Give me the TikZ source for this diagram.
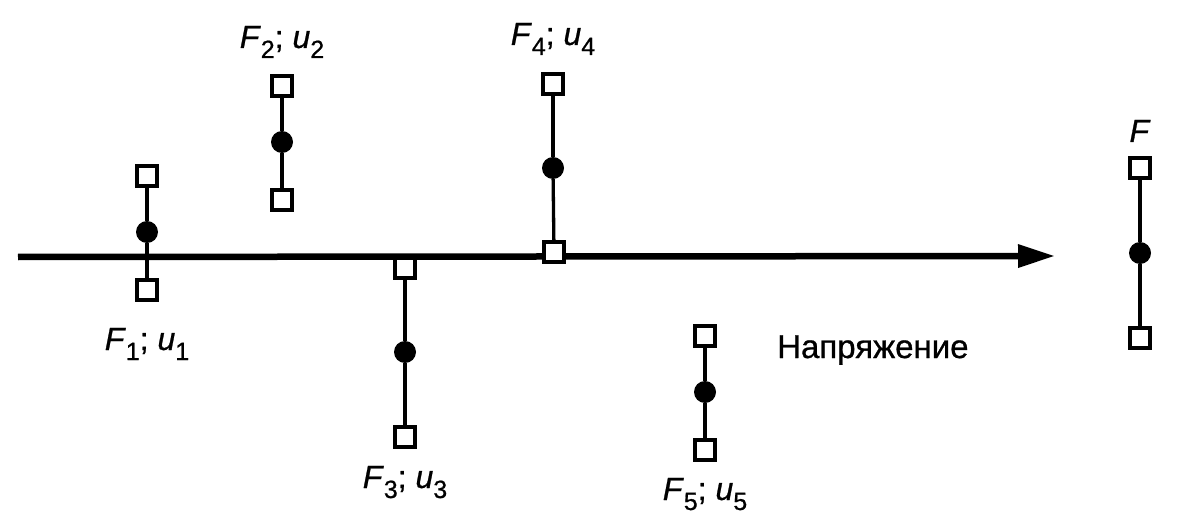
\documentclass[tikz,border=0pt]{standalone}
\usepackage{fontspec}
\setmainfont{Liberation Sans}[UprightFeatures={FakeBold=0.8},ItalicFeatures={FakeBold=0.8}]
\usetikzlibrary{arrows.meta}
\newcommand{\sbs}[1]{\raisebox{-10pt}{\fontsize{25}{25}\selectfont #1}}
\newcommand{\fu}[1]{\textit{F}\sbs{#1}; \textit{u}\sbs{#1}}
\begin{document}
\begin{tikzpicture}[x=1pt,y=-1pt,
  sq/.style={draw,fill=white,line width=3.3pt,minimum size=20pt,inner sep=0pt},
  dot/.style={circle,fill=black,minimum size=22pt,inner sep=0pt},
  link/.style={line width=3.3pt},
  axisline/.style={line width=6.5pt,-{Triangle[length=37pt,width=22pt]}},
  lab/.style={font=\fontsize{32}{36}\selectfont,inner sep=0pt,anchor=base}]
\useasboundingbox (0,0) rectangle (1179,532);
% axis
\coordinate (a0) at (18,257);
\coordinate (a1) at (1055,256);
\draw[axisline] (a0) -- (a1);
% group 1
\node[sq] (t1) at (147,176) {};
\node[sq] (b1) at (147,290) {};
\node[dot] (d1) at (147,232) {};
\node[lab] (l1) at (147,350) {\fu{1}};
% group 2
\node[sq] (t2) at (282,86) {};
\node[sq] (b2) at (282,200) {};
\node[dot] (d2) at (282,142) {};
\node[lab] (l2) at (282,48) {\fu{2}};
% group 3
\node[sq] (t3) at (405,268) {};
\node[sq] (b3) at (405,437) {};
\node[dot] (d3) at (405,352) {};
\node[lab] (l3) at (405,488) {\fu{3}};
% group 4
\node[sq] (t4) at (553,84) {};
\node[sq] (b4) at (554,252) {};
\node[dot] (d4) at (553,168) {};
\node[lab] (l4) at (553,45) {\fu{4}};
% group 5
\node[sq] (t5) at (705,336) {};
\node[sq] (b5) at (705,450) {};
\node[dot] (d5) at (705,392) {};
\node[lab] (l5) at (705,500) {\fu{5}};
% group F
\node[sq] (t6) at (1140,168) {};
\node[sq] (b6) at (1140,338) {};
\node[dot] (d6) at (1140,253) {};
\node[lab] (l6) at (1140,142) {\textit{F}};
% connectors
\foreach \i in {1,...,6} {
  \draw[link] (t\i) -- (d\i);
  \draw[link] (d\i) -- (b\i);
}
% axis label
\node[font=\fontsize{33}{36}\selectfont,inner sep=0pt,anchor=base west] (ax) at (777,358) {Напряжение};
\end{tikzpicture}
\end{document}
